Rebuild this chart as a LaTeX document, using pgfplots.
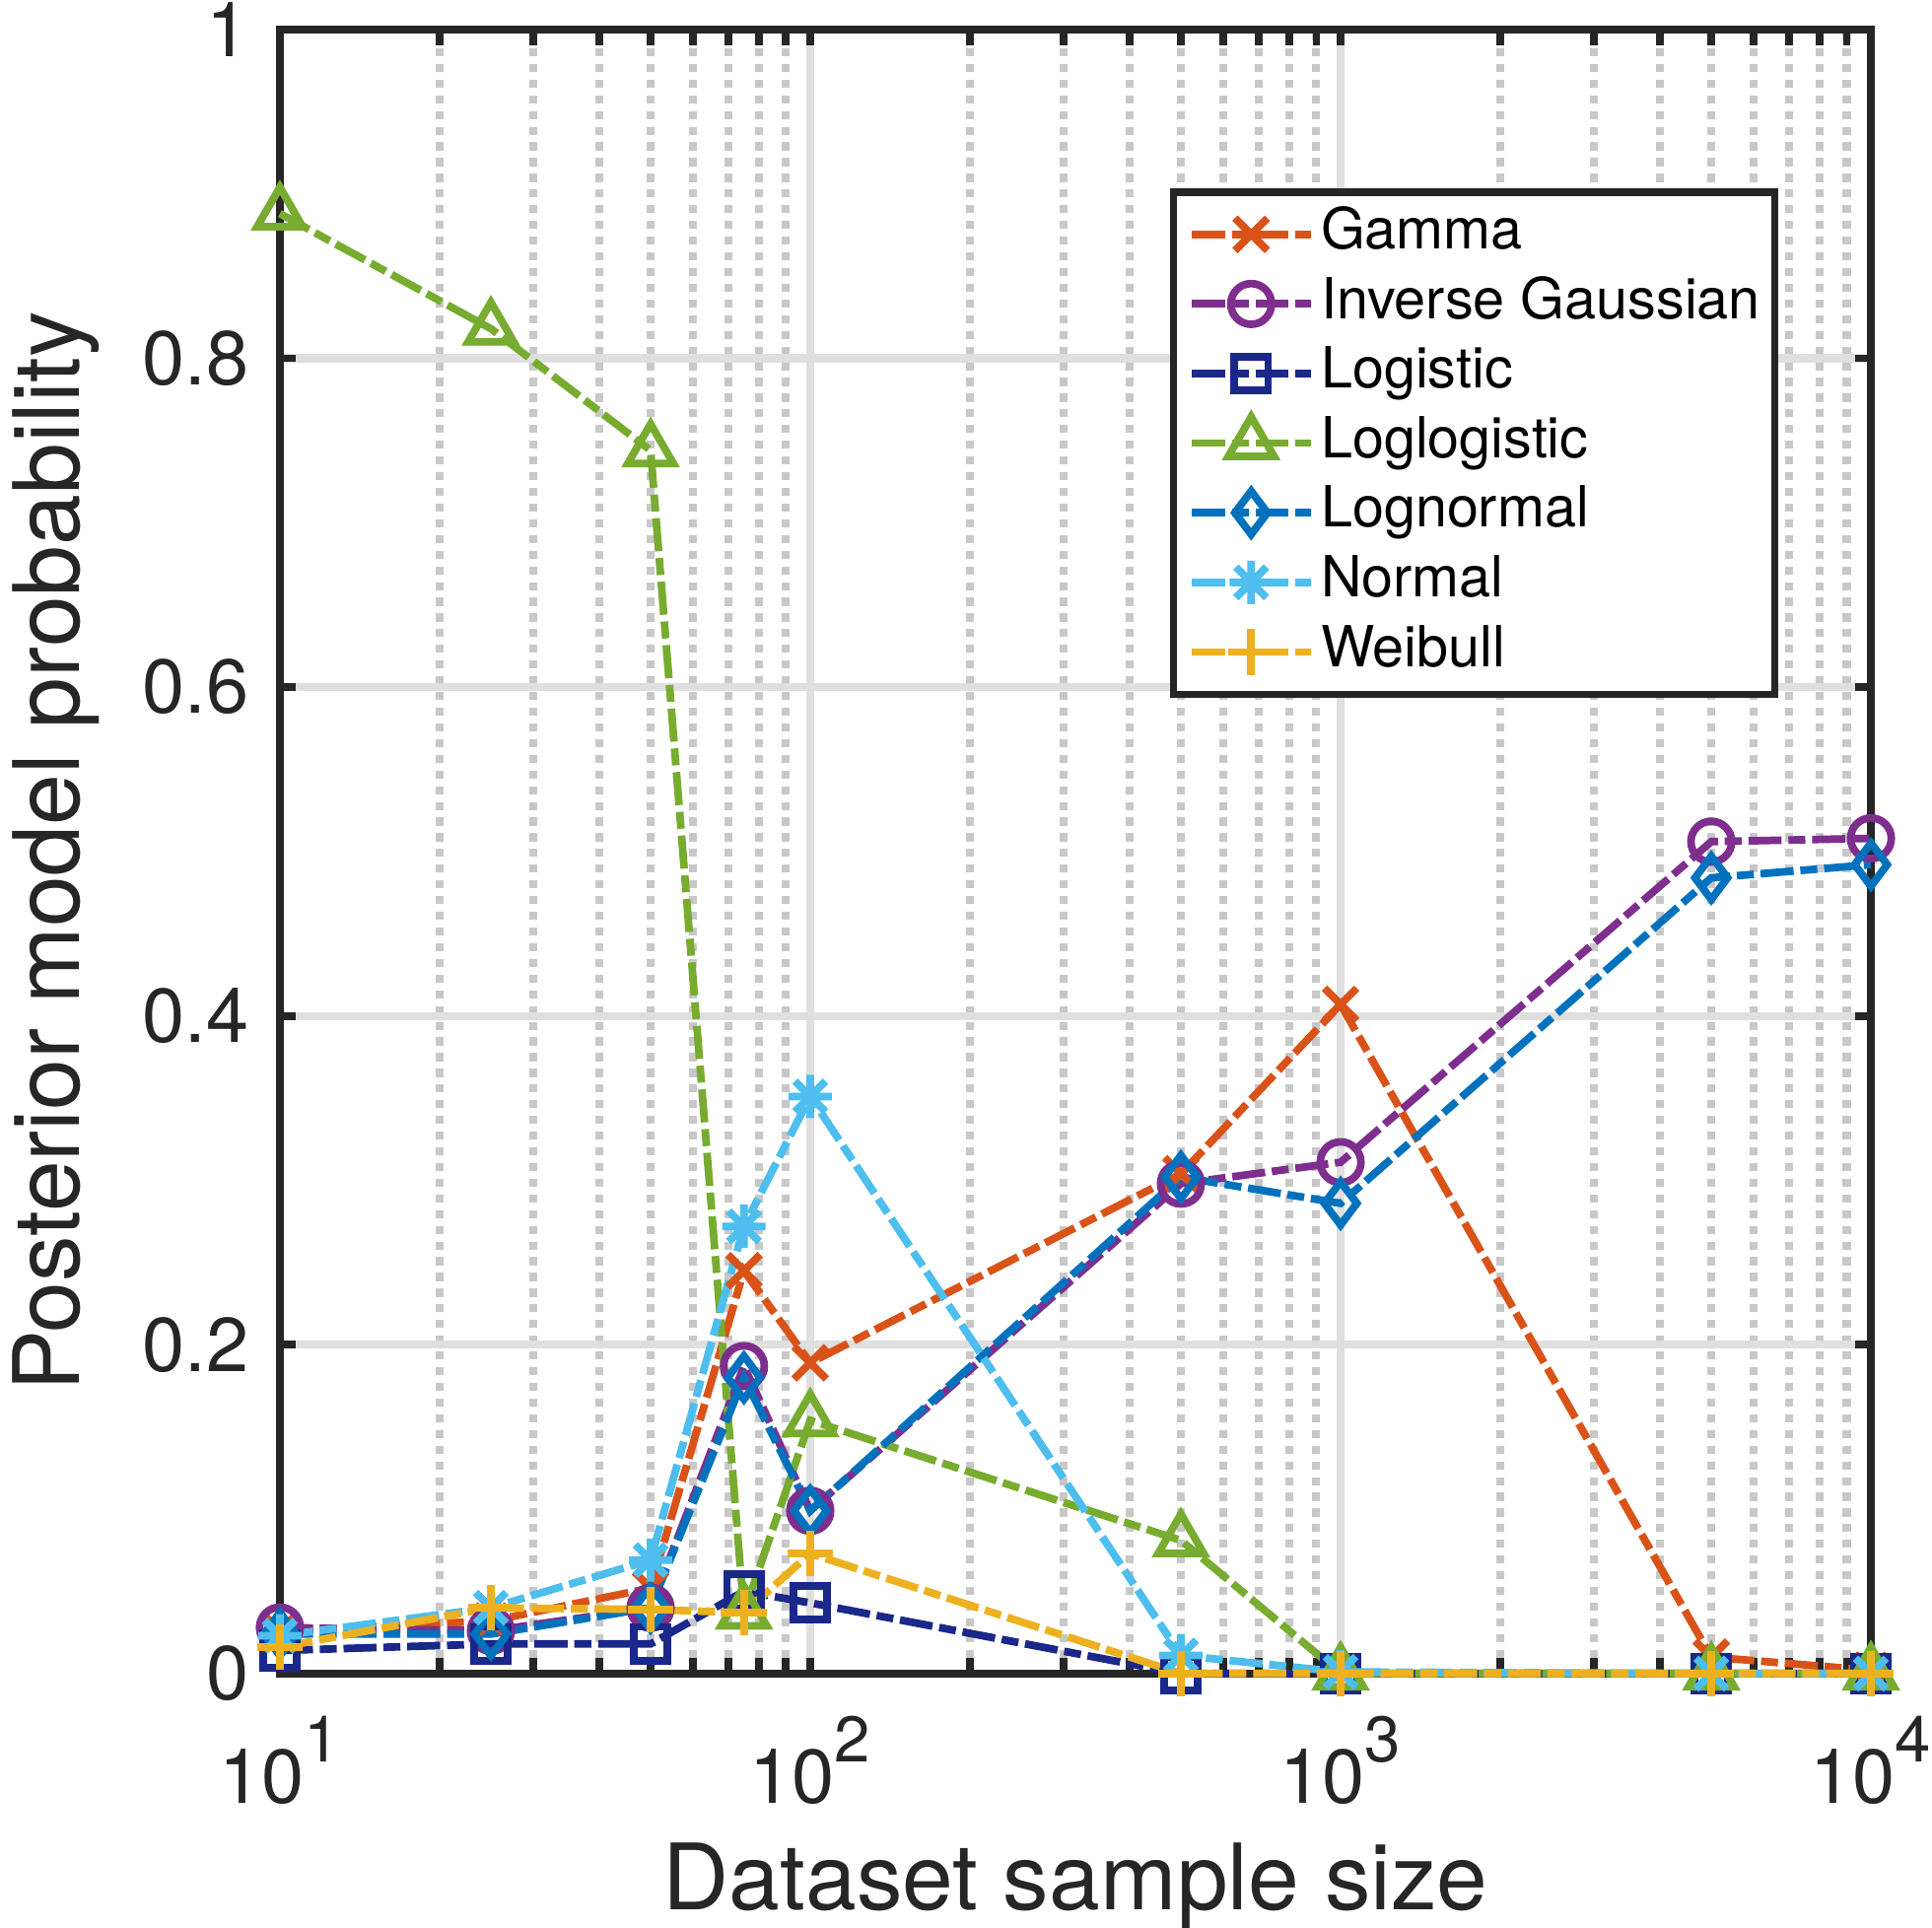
\documentclass[border=0pt]{standalone}
\usepackage{fontspec}
\setmainfont{TeX Gyre Heros}
\usepackage{pgfplots}
\pgfplotsset{compat=1.18}

\definecolor{axisgray}{RGB}{38,38,38}
\definecolor{majgrid}{RGB}{223,223,223}
\definecolor{mingrid}{RGB}{200,200,200}
\definecolor{cGamma}{RGB}{217,83,25}
\definecolor{cIG}{RGB}{126,47,142}
\definecolor{cLogistic}{RGB}{26,40,138}
\definecolor{cLoglog}{RGB}{119,172,48}
\definecolor{cLognormal}{RGB}{0,114,189}
\definecolor{cNormal}{RGB}{77,190,238}
\definecolor{cWeibull}{RGB}{237,177,32}

\pgfdeclareplotmark{mstar}{%
  \pgfpathmoveto{\pgfqpoint{0pt}{\pgfplotmarksize}}\pgfpathlineto{\pgfqpoint{0pt}{-\pgfplotmarksize}}%
  \pgfpathmoveto{\pgfqpoint{\pgfplotmarksize}{0pt}}\pgfpathlineto{\pgfqpoint{-\pgfplotmarksize}{0pt}}%
  \pgfpathmoveto{\pgfqpoint{.707\pgfplotmarksize}{.707\pgfplotmarksize}}\pgfpathlineto{\pgfqpoint{-.707\pgfplotmarksize}{-.707\pgfplotmarksize}}%
  \pgfpathmoveto{\pgfqpoint{-.707\pgfplotmarksize}{.707\pgfplotmarksize}}\pgfpathlineto{\pgfqpoint{.707\pgfplotmarksize}{-.707\pgfplotmarksize}}%
  \pgfusepathqstroke}

\newcommand{\ex}[1]{10\raisebox{0.54em}{\fontsize{7.6}{8}\selectfont #1}}

\tikzset{dd/.style={line width=0.9pt, dash pattern=on 3.9pt off 0.8pt on 2pt off 0.8pt}}

\begin{document}
\begin{tikzpicture}
\begin{axis}[
  xmode=log, xmin=10, xmax=10000, ymin=0, ymax=1,
  width=6.588cm, height=6.808cm, scale only axis,
  clip=false,
  axis line style={draw=axisgray, line width=0.9pt},
  tick style={draw=axisgray, line width=0.9pt},
  minor tick style={draw=axisgray, line width=0.9pt},
  major tick length=1.9pt, minor tick length=1.9pt,
  tick align=inside,
  xmajorgrids, xminorgrids, ymajorgrids,
  major grid style={draw=majgrid, line width=0.95pt},
  minor grid style={draw=mingrid, line width=0.95pt, dash pattern=on 0.95pt off 0.9pt},
  xtick={10,100,1000,10000},
  xticklabels={\ex{1},\ex{2},\ex{3},\ex{4}},
  ytick={0,0.2,0.4,0.6,0.8,1},
  yticklabels={0,0.2,0.4,0.6,0.8,1},
  xticklabel style={font=\fontsize{9}{10}\selectfont, text=axisgray, anchor=north, inner sep=0pt, yshift=-4.8pt},
  yticklabel style={font=\fontsize{9}{10}\selectfont, text=axisgray, anchor=east, inner sep=0pt, xshift=-3.5pt},
  xlabel={Dataset sample size},
  ylabel={Posterior model probability},
  xlabel style={font=\fontsize{10.8}{12}\selectfont, text=axisgray, at={(axis description cs:0.5,-0.1295)}, anchor=center, inner sep=0pt},
  ylabel style={font=\fontsize{10.8}{12}\selectfont, text=axisgray, at={(axis description cs:-0.141,0.5)}, anchor=center, inner sep=0pt, rotate=0},
  legend style={at={(axis description cs:0.942,0.9035)}, anchor=north east,
    draw=axisgray, line width=0.9pt, fill=white, inner xsep=1.7pt, inner ysep=0.9pt,
    font=\fontsize{6.68}{7}\selectfont, text=black,
    nodes={inner xsep=0pt, inner ysep=1pt, text height=4.8pt, text depth=1.4pt},
    /tikz/every odd column/.append style={column sep=0.77pt}},
  legend cell align=left,
  legend image code/.code={\draw[mark repeat=2,mark phase=2,#1] plot coordinates {(0pt,0pt) (7pt,0pt) (14pt,0pt)};},
]
\addplot[cGamma, dd, mark=x, mark size=2.7pt, mark options={solid}] coordinates {
(10,0.026) (25,0.032) (50,0.052) (75,0.245) (100,0.189) (500,0.304) (1000,0.407) (5000,0.010) (10000,0.002)};
\addplot[cIG, dd, mark=o, mark size=2.4pt, mark options={solid}] coordinates {
(10,0.028) (25,0.026) (50,0.040) (75,0.187) (100,0.099) (500,0.298) (1000,0.311) (5000,0.506) (10000,0.508)};
\addplot[cLogistic, dd, mark=square, mark size=2pt, mark options={solid}] coordinates {
(10,0.014) (25,0.018) (50,0.018) (75,0.050) (100,0.043) (500,0.0) (1000,0.0) (5000,0.0) (10000,0.0)};
\addplot[cLoglog, dd, mark=triangle, mark size=3.1pt, mark options={solid}] coordinates {
(10,0.888) (25,0.818) (50,0.744) (75,0.037) (100,0.154) (500,0.081) (1000,0.0) (5000,0.0) (10000,0.0)};
\addplot[cLognormal, dd, mark=diamond, mark size=2.55pt, mark options={solid}] coordinates {
(10,0.024) (25,0.024) (50,0.040) (75,0.180) (100,0.099) (500,0.302) (1000,0.286) (5000,0.484) (10000,0.492)};
\addplot[cNormal, dd, mark=mstar, mark size=2.55pt, mark options={solid}] coordinates {
(10,0.023) (25,0.040) (50,0.069) (75,0.272) (100,0.351) (500,0.011) (1000,0.001) (5000,0.0) (10000,0.0)};
\addplot[cWeibull, dd, mark=+, mark size=2.7pt, mark options={solid}] coordinates {
(10,0.016) (25,0.040) (50,0.039) (75,0.037) (100,0.073) (500,0.0) (1000,0.0) (5000,0.0) (10000,0.0)};
\legend{Gamma, Inverse Gaussian, Logistic, Loglogistic, Lognormal, Normal, Weibull}
\end{axis}
\pgfresetboundingbox
\path[use as bounding box] ([shift={(-1.159cm,-1.053cm)}]current axis.south west) rectangle ([shift={(0.253cm,0.122cm)}]current axis.north east);
\end{tikzpicture}
\end{document}
